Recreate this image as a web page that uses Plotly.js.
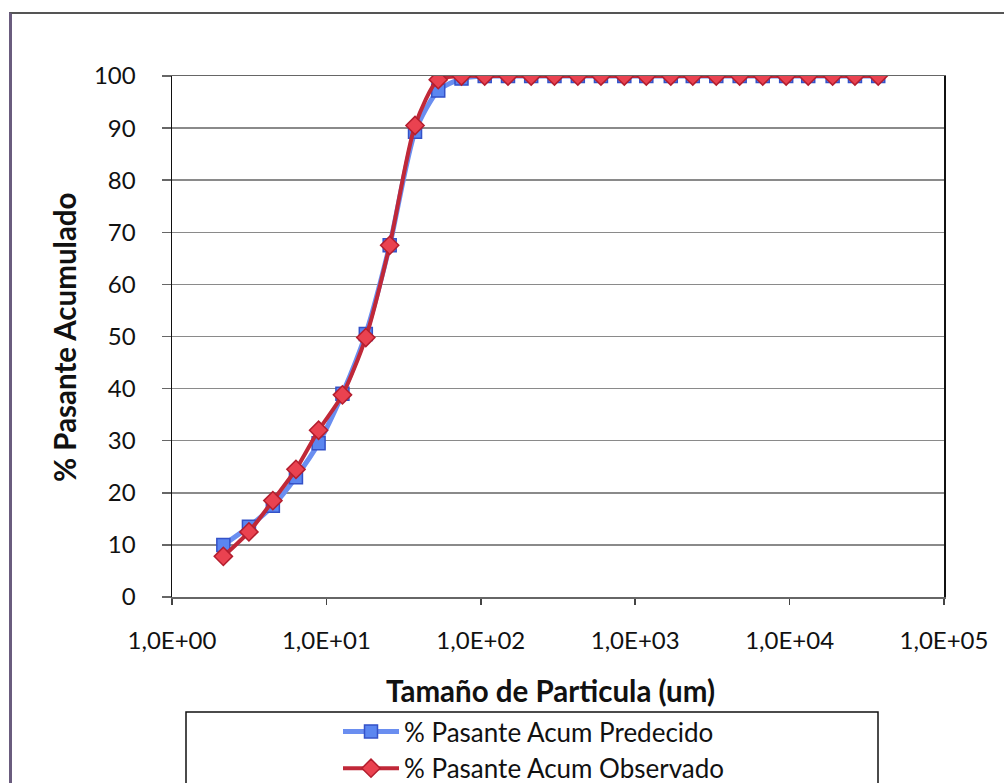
<!DOCTYPE html>
<html>
<head>
<meta charset="utf-8">
<script src="https://cdn.plot.ly/plotly-3.0.1.min.js"></script>
<style>
  html, body { margin: 0; padding: 0; background: #fff; overflow: hidden; }
  #wrap { position: relative; width: 1004px; height: 783px; overflow: hidden; }
  #frame { position: absolute; left: 9px; top: 12px; width: 1100px; height: 900px;
           border-left: 3px solid #6a5c7e; border-top: 2px solid #555; box-sizing: border-box; pointer-events: none; }
  #chart { position: absolute; left: 0; top: 0; width: 1004px; height: 783px; }
</style>
</head>
<body>
<div id="wrap">
  <div id="chart"></div>
  <div id="frame"></div>
</div>
<script>
// Particle size (um)
const sizes = [2.15, 3.15, 4.5, 6.35, 8.9, 12.7, 18, 25.7, 37.5, 53, 75, 106, 150, 212, 300, 425, 600, 850, 1180, 1700, 2360, 3350, 4750, 6700, 9500, 13200, 19000, 26500, 37500];
// % Pasante Acum Predecido
const predecido = [10, 13.5, 17.5, 23, 29.5, 39, 50.5, 67.5, 89.3, 97.2, 99.5, 100, 100, 100, 100, 100, 100, 100, 100, 100, 100, 100, 100, 100, 100, 100, 100, 100, 100];
// % Pasante Acum Observado
const observado = [7.8, 12.5, 18.5, 24.5, 32, 38.8, 49.8, 67.5, 90.5, 99.3, 100, 100, 100, 100, 100, 100, 100, 100, 100, 100, 100, 100, 100, 100, 100, 100, 100, 100, 100];
// X tick labels
const xTickVals = [1, 10, 100, 1000, 10000, 100000];
const xTickText = ["1,0E+00", "1,0E+01", "1,0E+02", "1,0E+03", "1,0E+04", "1,0E+05"];
const seriesNames = ["% Pasante Acum Predecido", "% Pasante Acum Observado"];
const xTitle = "Tamaño de Particula (um)";
const yTitle = "% Pasante Acumulado";

const FONT = "Lato, 'Open Sans', sans-serif";

const traces = [
  {
    x: sizes, y: predecido, name: seriesNames[0], type: "scatter", mode: "lines+markers",
    line: { color: "#6a8ef0", width: 5, shape: "spline", smoothing: 0.7 },
    marker: { symbol: "square", size: 13, color: "#5b86f0", line: { color: "#3452c8", width: 1.5 } }
  },
  {
    x: sizes, y: observado, name: seriesNames[1], type: "scatter", mode: "lines+markers",
    line: { color: "#c02838", width: 4, shape: "spline", smoothing: 0.7 },
    marker: { symbol: "diamond", size: 14, color: "#ea4250", line: { color: "#b41e2e", width: 1.5 } }
  }
];

const plotW = 772, plotH = 521;
function px2x(p) { return (p - 172) / plotW; }
function py2y(p) { return 1 - (p - 76) / plotH; }

const layout = {
  width: 1004, height: 783,
  margin: { l: 172, r: 60, t: 76, b: 186, autoexpand: false },
  paper_bgcolor: "#ffffff", plot_bgcolor: "#ffffff",
  font: { family: FONT, size: 24, color: "#111" },
  showlegend: true,
  xaxis: {
    type: "log", range: [0, 5], autorange: false, automargin: false,
    tickvals: xTickVals, ticktext: xTickText,
    showgrid: false, zeroline: false,
    showline: true, linecolor: "#666", linewidth: 1.5, mirror: true,
    ticks: "outside", ticklen: 6, tickcolor: "#444", tickwidth: 1.5,
    ticklabelstandoff: 16,
    tickfont: { family: FONT, size: 24, color: "#111" }
  },
  yaxis: {
    range: [0, 100], autorange: false, dtick: 10, tick0: 0, automargin: false,
    showgrid: true, gridcolor: "#8a8a8a", gridwidth: 1.5,
    zeroline: false,
    showline: true, linecolor: "#111", linewidth: 1.5, mirror: true,
    ticks: "outside", ticklen: 9, tickcolor: "#666", tickwidth: 1.5,
    ticklabelstandoff: 21,
    tickfont: { family: FONT, size: 24, color: "#111" }
  },
  annotations: [
    { text: "<b>" + xTitle + "</b>", xref: "paper", yref: "paper", x: px2x(550), y: py2y(690),
      xanchor: "center", yanchor: "middle", showarrow: false, font: { family: FONT, size: 29.5, color: "#111" } },
    { text: "<b>" + yTitle + "</b>", xref: "paper", yref: "paper", x: px2x(64), y: py2y(337),
      xanchor: "center", yanchor: "middle", textangle: -90, showarrow: false, font: { family: FONT, size: 29.5, color: "#111" } }
  ],
  legend: {
    orientation: "v", xref: "container", yref: "container",
    x: 338 / 1004, xanchor: "left", y: 1 - 708 / 783, yanchor: "top",
    bgcolor: "rgba(0,0,0,0)", borderwidth: 0,
    font: { family: FONT, size: 26, color: "#111" },
    itemwidth: 56, tracegroupgap: 0
  },
  shapes: [
    { type: "rect", xref: "paper", yref: "paper", x0: px2x(186), x1: px2x(878), y0: py2y(712), y1: py2y(800),
      line: { color: "#111", width: 1.5 }, fillcolor: "rgba(0,0,0,0)", layer: "below" }
  ]
};

Plotly.newPlot("chart", traces, layout, { staticPlot: true, displayModeBar: false });
</script>
</body>
</html>
